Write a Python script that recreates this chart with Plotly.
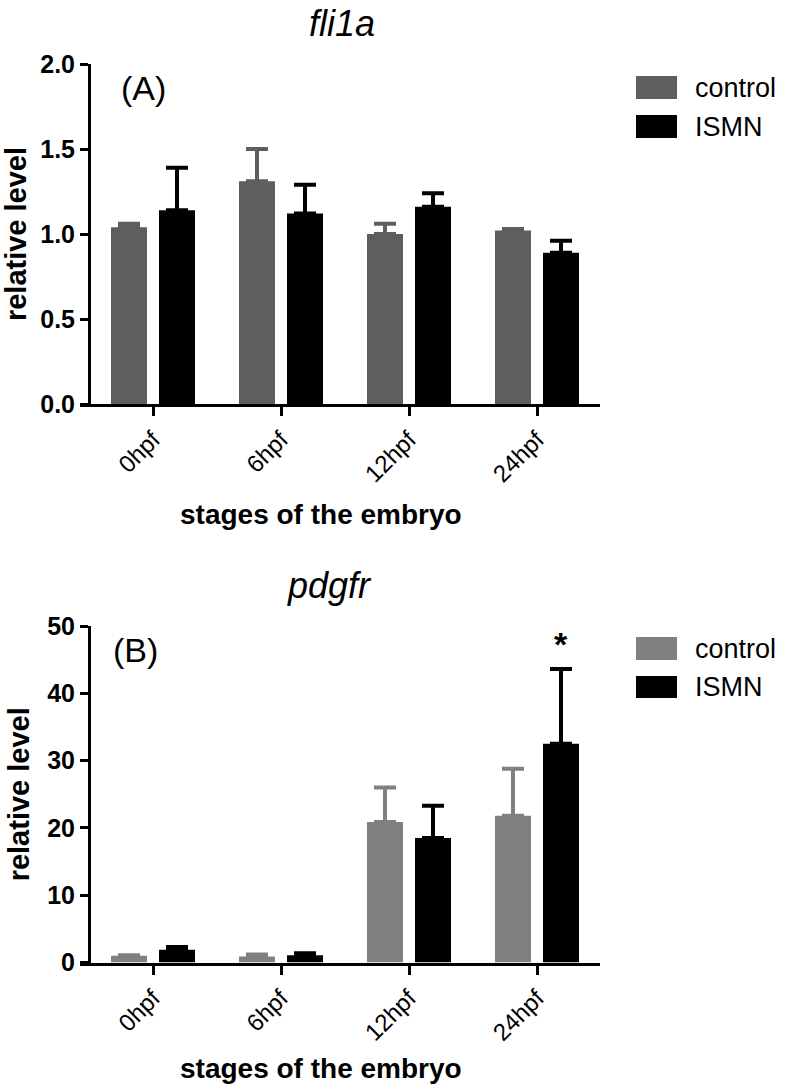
import plotly.graph_objects as go

categories = ["0hpf", "6hpf", "12hpf", "24hpf"]
series_names = ["control", "ISMN"]

fli1a_control = [1.04, 1.31, 1.00, 1.02]
fli1a_control_err = [0.02, 0.19, 0.06, 0.01]
fli1a_ismn = [1.14, 1.12, 1.16, 0.89]
fli1a_ismn_err = [0.25, 0.17, 0.08, 0.07]

pdgfr_control = [1.0, 0.9, 20.9, 21.8]
pdgfr_control_err = [0.1, 0.3, 5.1, 7.0]
pdgfr_ismn = [1.9, 1.1, 18.5, 32.5]
pdgfr_ismn_err = [0.4, 0.3, 4.8, 11.1]

colors_a = ["#5e5e5e", "#000000"]
colors_b = ["#808080", "#000000"]

W, H = 787, 1090
FONT = "Liberation Sans, Arial, sans-serif"


def px_y(p):
    return 1 - p / H


def px_x(p):
    return p / W


fig = go.Figure()


def add_bars(vals, errs, name, color, xa, ya):
    fig.add_trace(go.Bar(
        x=categories, y=vals, name=name, marker=dict(color=color, line=dict(width=0)),
        error_y=dict(type="data", symmetric=False, array=errs, arrayminus=[0] * len(errs),
                     color=color, thickness=4, width=11),
        xaxis=xa, yaxis=ya, showlegend=False))


add_bars(fli1a_control, fli1a_control_err, series_names[0], colors_a[0], "x", "y")
add_bars(fli1a_ismn, fli1a_ismn_err, series_names[1], colors_a[1], "x", "y")
add_bars(pdgfr_control, pdgfr_control_err, series_names[0], colors_b[0], "x2", "y2")
add_bars(pdgfr_ismn, pdgfr_ismn_err, series_names[1], colors_b[1], "x2", "y2")

# x axis line starts slightly left of the y axis (as in the reference)
xdom = [px_x(80), px_x(600)]
xrng = [(80 - 153) / 128, (600 - 153) / 128]
common_x = dict(showline=True, linecolor="black", linewidth=3, ticks="outside", ticklen=9,
                tickwidth=3, tickcolor="black", tickangle=-45, showgrid=False, zeroline=False,
                tickfont=dict(family=FONT, size=24, color="black"), domain=xdom,
                range=xrng, fixedrange=True, automargin=False)
common_y = dict(showline=True, linecolor="black", linewidth=3, ticks="outside", ticklen=8,
                tickwidth=3, tickcolor="black", showgrid=False, zeroline=False,
                anchor="free", position=px_x(89), automargin=False, fixedrange=True,
                tickfont=dict(family=FONT, size=25, color="black", weight="bold"),
                title=dict(text="relative level", standoff=8,
                           font=dict(family=FONT, size=29, color="black", weight="bold")))

fig.update_layout(
    width=W, height=H, margin=dict(l=0, r=0, t=0, b=0, autoexpand=False),
    paper_bgcolor="white", plot_bgcolor="white",
    barmode="group", bargap=0.25, bargroupgap=0.25,
    xaxis=dict(common_x, anchor="y"),
    yaxis=dict(common_y, domain=[px_y(404), px_y(64)], range=[0, 2],
               tickvals=[0, 0.5, 1.0, 1.5, 2.0], ticktext=["0.0", "0.5", "1.0", "1.5", "2.0"]),
    xaxis2=dict(common_x, anchor="y2"),
    yaxis2=dict(common_y, domain=[px_y(962.6), px_y(626)], range=[0, 50],
                tickvals=[0, 10, 20, 30, 40, 50]),
)

ann = []


def label(text, x, y, size, bold=False, xanchor="center"):
    f = dict(family=FONT, size=size, color="black")
    if bold:
        f["weight"] = "bold"
    ann.append(dict(text=text, x=px_x(x), y=px_y(y), xref="paper", yref="paper",
                    xanchor=xanchor, yanchor="middle", showarrow=False, font=f))


# titles
label("<i>fli1a</i>", 342, 23, 36)
label("<i>pdgfr</i>", 329, 585, 36)
# panel labels
label("(A)", 143, 88, 34)
label("(B)", 135, 650, 34)
# x axis titles
label("stages of the embryo", 321, 515, 28, bold=True)
label("stages of the embryo", 321, 1068, 28, bold=True)

# significance star
ann.append(dict(text="*", x=3.1875, y=pdgfr_ismn[3] + pdgfr_ismn_err[3], xref="x2", yref="y2",
                xanchor="center", yanchor="bottom", yshift=4, showarrow=False,
                font=dict(family=FONT, size=34, color="black", weight="bold")))

# legends (drawn swatches)
shapes = []
legend_rows = [(colors_a, [(76, 99), (115, 138)]), (colors_b, [(637, 660), (676, 698)])]
for cols, rows in legend_rows:
    for i, (top, bot) in enumerate(rows):
        shapes.append(dict(type="rect", xref="paper", yref="paper",
                           x0=px_x(636), x1=px_x(677), y0=px_y(bot), y1=px_y(top),
                           fillcolor=cols[i], line=dict(width=0)))
        label(series_names[i], 693, (top + bot) / 2, 27, xanchor="left")

fig.update_layout(annotations=ann, shapes=shapes, hovermode=False)
fig.write_html("out.html", config={"displayModeBar": False, "staticPlot": True},
               post_script="document.body.style.margin='0';document.body.style.overflow='hidden';")
